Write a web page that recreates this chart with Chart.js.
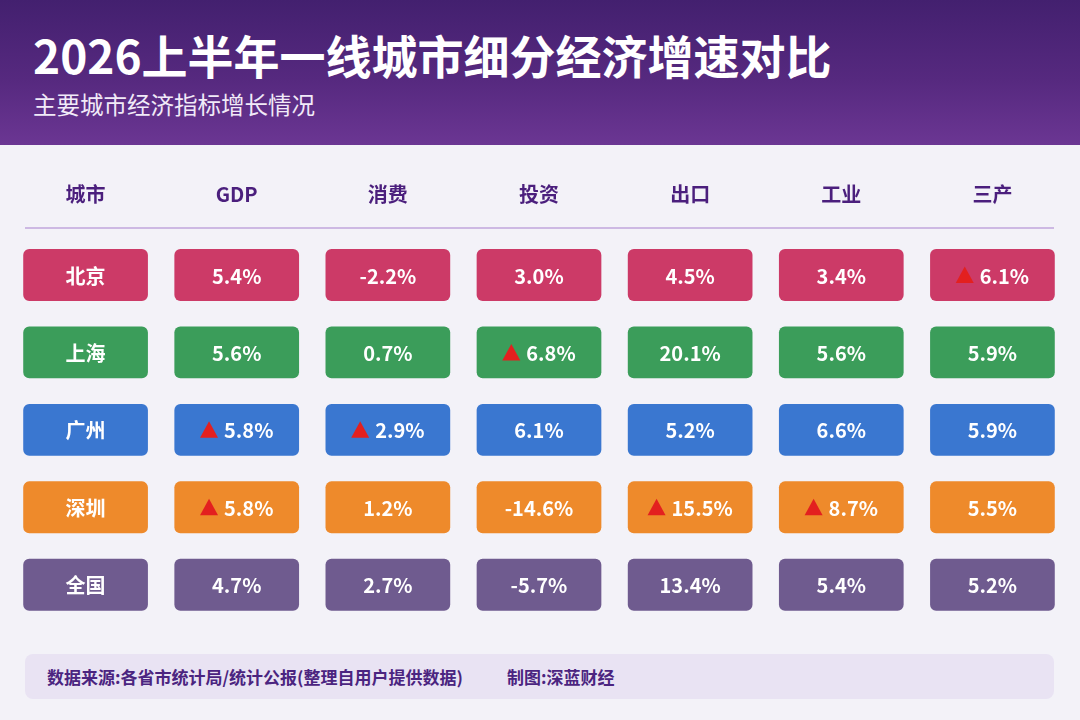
<!DOCTYPE html>
<html>
<head>
<meta charset="utf-8">
<script src="https://cdn.jsdelivr.net/npm/chart.js@4.4.1/dist/chart.umd.min.js"></script>
<style>
  body { margin: 0; width: 1080px; height: 720px; overflow: hidden; background: #f3f2f8;
         font-family: "Noto Sans CJK SC", "Noto Sans", sans-serif; position: relative; }
  .head { position: absolute; left: 0; top: 0; width: 1080px; height: 145px;
          background: linear-gradient(180deg, #43206f 0%, #56297f 55%, #6b3693 100%); }
  .head h1 { position: absolute; left: 33px; top: 27px; margin: 0; font-size: 46px; line-height: 54px;
             font-weight: 700; color: #fff; }
  .head .sub { position: absolute; left: 33px; top: 90px; font-size: 23.5px; line-height: 28px; color: #f1eaf8; }
  .wrap { position: absolute; left: 0; top: 145px; width: 1080px; height: 494px; }
  .foot { position: absolute; left: 25px; top: 654px; width: 1029px; height: 45px; border-radius: 8px;
          background: #e9e3f3; color: #4b2480; font-size: 17px; font-weight: 700; line-height: 45px; }
  .foot span { position: absolute; top: 0; }
</style>
</head>
<body>
<div class="head">
  <h1>2026上半年一线城市细分经济增速对比</h1>
  <div class="sub">主要城市经济指标增长情况</div>
</div>
<div class="wrap"><canvas id="chart"></canvas></div>
<div class="foot">
  <span style="left:22px">数据来源:各省市统计局/统计公报(整理自用户提供数据)</span>
  <span style="left:482px">制图:深蓝财经</span>
</div>
<script>
// 表头和城市
const columns = ['城市', 'GDP', '消费', '投资', '出口', '工业', '三产'];
const cities = ['北京', '上海', '广州', '深圳', '全国'];

// 各指标增速(%),顺序同 cities
const gdp = [5.4, 5.6, 5.8, 5.8, 4.7];
const consumption = [-2.2, 0.7, 2.9, 1.2, 2.7];
const investment = [3.0, 6.8, 6.1, -14.6, -5.7];
const exportsGrowth = [4.5, 20.1, 5.2, 15.5, 13.4];
const industry = [3.4, 5.6, 6.6, 8.7, 5.4];
const tertiary = [6.1, 5.9, 5.9, 5.5, 5.2];

// 标红三角的格子: [城市, 指标]
const marked = [['北京', '三产'], ['上海', '投资'], ['广州', 'GDP'], ['广州', '消费'],
                ['深圳', 'GDP'], ['深圳', '出口'], ['深圳', '工业']];

const rowColors = ['#cc3a67', '#3b9d5a', '#3a77d0', '#ee8a2b', '#6f5b8f'];

const series = [gdp, consumption, investment, exportsGrowth, industry, tertiary];
const half = 0.335;

const datasets = cities.map((city, i) => ({
  label: city,
  data: columns.map(() => [i - half, i + half]),
  texts: [city].concat(series.map(s => s[i].toFixed(1) + '%')),
  backgroundColor: rowColors[i],
  borderRadius: 6,
  borderSkipped: false,
  categoryPercentage: 1,
  barPercentage: 0.825
}));

// 格子里的文字和红三角
const cellText = {
  id: 'cellText',
  afterDatasetsDraw(chart) {
    const ctx = chart.ctx;
    ctx.save();
    ctx.font = '700 20px "Noto Sans CJK SC", sans-serif';
    ctx.textBaseline = 'middle';
    chart.data.datasets.forEach((ds, i) => {
      chart.getDatasetMeta(i).data.forEach((bar, j) => {
        const txt = ds.texts[j];
        const hasMark = marked.some(m => m[0] === cities[i] && m[1] === columns[j]);
        const tw = ctx.measureText(txt).width;
        const triW = 18, gap = 6;
        const total = hasMark ? triW + gap + tw : tw;
        let x = bar.x - total / 2;
        const y = (bar.y + bar.base) / 2;
        if (hasMark) {
          ctx.fillStyle = '#e3201f';
          ctx.beginPath();
          ctx.moveTo(x, y + 8);
          ctx.lineTo(x + triW, y + 8);
          ctx.lineTo(x + triW / 2, y - 8.5);
          ctx.closePath();
          ctx.fill();
          x += triW + gap;
        }
        ctx.fillStyle = '#ffffff';
        ctx.textAlign = 'left';
        ctx.fillText(txt, x, y + 1);
      });
    });
    ctx.restore();
  }
};

// 表头下的分隔线
const headLine = {
  id: 'headLine',
  beforeDatasetsDraw(chart) {
    const ctx = chart.ctx;
    const top = chart.chartArea.top;
    ctx.save();
    ctx.strokeStyle = '#cdb9e3';
    ctx.lineWidth = 2;
    ctx.beginPath();
    ctx.moveTo(25, top);
    ctx.lineTo(1054, top);
    ctx.stroke();
    ctx.restore();
  }
};

new Chart(document.getElementById('chart'), {
  type: 'bar',
  data: { labels: columns, datasets: datasets },
  options: {
    responsive: true,
    maintainAspectRatio: false,
    animation: false,
    grouped: false,
    layout: { padding: { left: 10, right: 12, top: 0, bottom: 0 } },
    plugins: {
      legend: { display: false },
      tooltip: { enabled: false }
    },
    scales: {
      x: {
        position: 'top',
        grid: { display: false },
        border: { display: false },
        ticks: {
          color: '#4b1f7d',
          padding: 14,
          font: { family: '"Noto Sans CJK SC", sans-serif', size: 20, weight: '700' }
        },
        afterFit(scale) { scale.height = 83; }
      },
      y: {
        display: false,
        reverse: true,
        min: -0.606,
        max: 4.7
      }
    }
  },
  plugins: [cellText, headLine]
});
</script>
</body>
</html>
